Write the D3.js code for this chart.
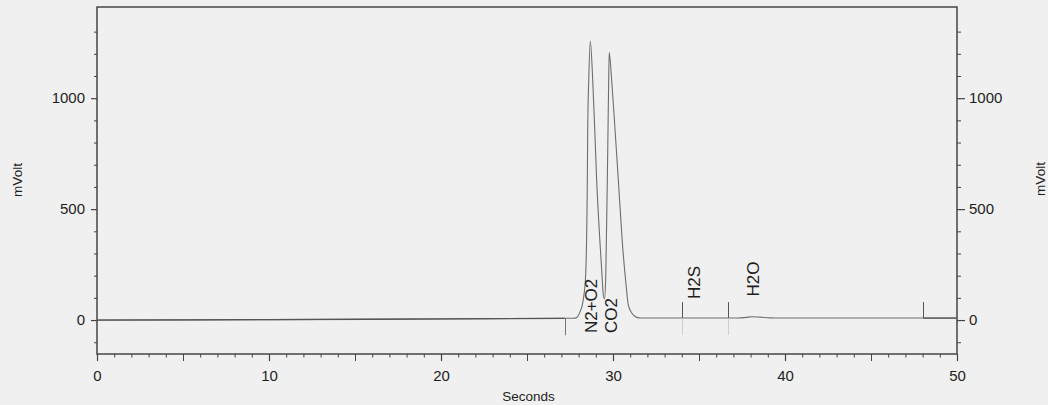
<!DOCTYPE html>
<html>
<head>
<meta charset="utf-8">
<script src="https://cdn.jsdelivr.net/npm/d3@7"></script>
<style>
  html, body { margin: 0; padding: 0; background: #f0f0f0; }
  svg { display: block; }
  text { font-family: "Liberation Sans", Arial, sans-serif; fill: #1e1e1e; }
</style>
</head>
<body>
<svg id="chart" width="1048" height="405"></svg>
<script>
// Detector signal (seconds, mVolt)
const traceTime = [0, 10, 20, 27.2, 27.7, 27.9, 28.08, 28.22, 28.31, 28.41, 28.51, 28.53, 28.59, 28.68,
  28.82, 28.94, 29.05, 29.24, 29.36, 29.44, 29.51, 29.58, 29.67, 29.71, 29.75, 29.78,
  29.92, 30.12, 30.31, 30.54, 30.76, 30.89, 31.09, 31.38, 31.6,
  37.27, 37.73, 38.06, 38.55, 39.13, 39.7, 48.05, 50];
const traceMv = [0, 2, 5, 8, 8, 12, 37, 70, 113, 203, 654, 857, 1083, 1258,
  1083, 857, 631, 353, 203, 113, 95, 203, 631, 857, 1083, 1206,
  1083, 857, 631, 353, 158, 68, 32, 12, 9,
  9, 12, 15, 13, 10, 9, 9, 9];

// Integration events
const eventTime = [27.2, 34.0, 36.7, 48.05];
const eventKind = ["down", "both", "both", "up"];

// Peak names and retention times
const peakNames = ["N2+O2", "CO2", "H2S", "H2O"];
const peakTime = [28.69, 29.85, 34.71, 38.11];
const peakMv = [1258, 1206, 0, 12];

// Axis ticks
const xMajorTicks = [0, 10, 20, 30, 40, 50];
const xMidTicks = [5, 15, 25, 35, 45];
const xMinorTicks = d3.range(0, 51);
const yMajorTicks = [0, 500, 1000];
const yMinorTicks = [-100, 100, 200, 300, 400, 600, 700, 800, 900, 1100, 1200, 1300];

const xDomain = [0, 50];
const yDomain = [-153, 1411];

const svg = d3.select("#chart");
const L = 97, R = 957, T = 7, B = 354;

const x = d3.scaleLinear().domain(xDomain).range([L, R]);
const y = d3.scaleLinear().domain(yDomain).range([B, T]);

const axisColor = "#444";

function styleAxis(g, width) {
  g.select(".domain").remove();
  g.selectAll(".tick line").attr("stroke", axisColor).attr("stroke-width", width);
  g.selectAll(".tick text").style("font-size", "15px").attr("fill", "#1e1e1e");
}

// bottom axis: minor, mid, major ticks
svg.append("g").attr("transform", `translate(0,${B})`)
  .call(d3.axisBottom(x).tickValues(xMinorTicks).tickSize(3.5).tickFormat(""))
  .call(g => styleAxis(g, 1));
svg.append("g").attr("transform", `translate(0,${B})`)
  .call(d3.axisBottom(x).tickValues(xMidTicks).tickSize(7).tickFormat(""))
  .call(g => styleAxis(g, 1));
svg.append("g").attr("transform", `translate(0,${B})`)
  .call(d3.axisBottom(x).tickValues(xMajorTicks).tickSize(7).tickPadding(9).tickFormat(d3.format("d")))
  .call(g => styleAxis(g, 1.2));

// left axis
svg.append("g").attr("transform", `translate(${L},0)`)
  .call(d3.axisLeft(y).tickValues(yMinorTicks).tickSize(3).tickFormat(""))
  .call(g => styleAxis(g, 1));
svg.append("g").attr("transform", `translate(${L},0)`)
  .call(d3.axisLeft(y).tickValues(yMajorTicks).tickSize(6).tickPadding(6).tickFormat(d3.format("d")))
  .call(g => styleAxis(g, 1.2));

// right axis
svg.append("g").attr("transform", `translate(${R},0)`)
  .call(d3.axisRight(y).tickValues(yMinorTicks).tickSize(4).tickFormat(""))
  .call(g => styleAxis(g, 1));
svg.append("g").attr("transform", `translate(${R},0)`)
  .call(d3.axisRight(y).tickValues(yMajorTicks).tickSize(8).tickPadding(4).tickFormat(d3.format("d")))
  .call(g => styleAxis(g, 1.2));

// frame
svg.append("rect")
  .attr("x", L).attr("y", T).attr("width", R - L).attr("height", B - T)
  .attr("fill", "none").attr("stroke", axisColor).attr("stroke-width", 1.5);

// signal trace
const pts = traceTime.map((t, i) => [t, traceMv[i]]);
const line = d3.line().x(d => x(d[0])).y(d => y(d[1])).curve(d3.curveMonotoneX);
svg.append("path").datum(pts)
  .attr("d", line)
  .attr("fill", "none").attr("stroke", "#6e6e6e").attr("stroke-width", 1.1);

// darker baseline outside the integrated window
const outer = [pts.filter(d => d[0] <= eventTime[0]), pts.filter(d => d[0] >= eventTime[3])];
outer.forEach(seg => {
  svg.append("path").datum(seg).attr("d", line)
    .attr("fill", "none").attr("stroke", "#555").attr("stroke-width", 1.3);
});

// event markers
const baseAt = t => {
  const i = d3.bisectLeft(traceTime, t);
  const i0 = Math.max(0, i - 1);
  const t0 = traceTime[i0], t1 = traceTime[Math.min(i, traceTime.length - 1)];
  const v0 = traceMv[i0], v1 = traceMv[Math.min(i, traceTime.length - 1)];
  return t1 === t0 ? v0 : v0 + (v1 - v0) * (t - t0) / (t1 - t0);
};
eventTime.forEach((t, i) => {
  const xp = Math.round(x(t)) + 0.5;
  const yb = y(baseAt(t));
  const kind = eventKind[i];
  if (kind === "down") {
    svg.append("line").attr("x1", xp).attr("x2", xp).attr("y1", yb).attr("y2", yb + 17)
      .attr("stroke", "#777").attr("stroke-width", 1);
  }
  if (kind === "both") {
    svg.append("line").attr("x1", xp).attr("x2", xp).attr("y1", yb).attr("y2", yb + 17)
      .attr("stroke", "#cfcfcf").attr("stroke-width", 1);
  }
  if (kind === "up" || kind === "both") {
    svg.append("line").attr("x1", xp).attr("x2", xp).attr("y1", yb).attr("y2", yb - 16)
      .attr("stroke", "#555").attr("stroke-width", 1);
  }
});

// peak labels: tall peaks are labelled under the baseline, small ones above the markers
const y0 = y(0);
peakNames.forEach((name, i) => {
  const big = peakMv[i] > 500;
  const yb = big ? y0 + 13 : y0 - 21 - (name === "H2O" ? 2.5 : 0);
  svg.append("text")
    .attr("transform", `translate(${x(peakTime[i])},${yb}) rotate(-90)`)
    .attr("dy", "0.36em")
    .style("font-size", "17px")
    .text(name);
});

// axis titles
svg.append("text")
  .attr("transform", `translate(17,${180}) rotate(-90)`)
  .attr("text-anchor", "middle").attr("dy", "0.35em")
  .style("font-size", "13.5px").text("mVolt");
svg.append("text")
  .attr("transform", `translate(1040,${179}) rotate(-90)`)
  .attr("text-anchor", "middle").attr("dy", "0.35em")
  .style("font-size", "13.5px").text("mVolt");
svg.append("text")
  .attr("x", 528.5).attr("y", 400.5)
  .attr("text-anchor", "middle")
  .style("font-size", "13.5px").text("Seconds");
</script>
</body>
</html>
